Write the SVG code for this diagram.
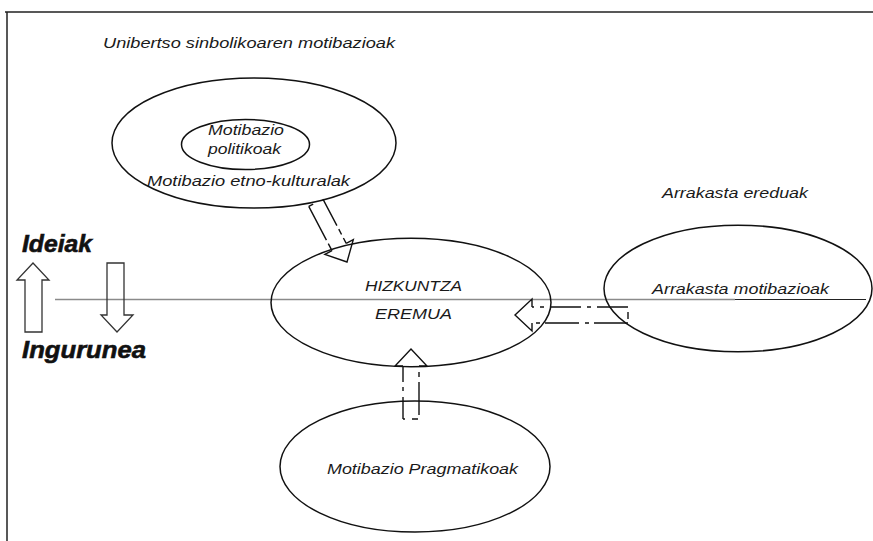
<svg xmlns="http://www.w3.org/2000/svg" width="873" height="541" viewBox="0 0 873 541">
  <style>
    .ell { fill: none; stroke: #111; stroke-width: 1.5; }
    .lbl { font-family: "Liberation Sans", Arial, Helvetica, sans-serif; font-style: italic; font-size: 15px; fill: #1a1a1a; }
    .big { font-weight: bold; font-size: 24px; fill: #111; stroke: #111; stroke-width: 0.6; }
    .hollow { fill: none; stroke: #333; stroke-width: 1.3; stroke-linejoin: miter; }
    .head { fill: none; stroke: #111; stroke-width: 1.4; }
    .shaft { fill: none; stroke: #111; stroke-width: 1.4; }
    .frame { fill: none; stroke: #222; stroke-width: 1.5; }
  </style>

  <!-- page frame (top and left edges only) -->
  <g id="frame">
    <path class="frame" d="M5,12 H873 M7,12 V541"/>
  </g>

  <!-- horizontal divider between ideas and environment -->
  <g id="divider">
    <path d="M55,299.5 H735" stroke="#8a8a8a" stroke-width="1.3" fill="none"/>
    <path d="M735,299.5 H866" stroke="#222" stroke-width="1.1" fill="none"/>
  </g>

  <!-- free labels (wide light italic lettering, stretched to width) -->
  <g id="labels">
    <text class="lbl" x="103" y="48" textLength="292" lengthAdjust="spacingAndGlyphs">Unibertso sinbolikoaren motibazioak</text>
    <text class="lbl" x="662" y="198" textLength="146" lengthAdjust="spacingAndGlyphs">Arrakasta ereduak</text>
  </g>

  <!-- side legend: ideas up / environment down -->
  <g id="legend">
    <text class="lbl big" x="22" y="252" textLength="70" lengthAdjust="spacingAndGlyphs">Ideiak</text>
    <text class="lbl big" x="22" y="358" textLength="124" lengthAdjust="spacingAndGlyphs">Ingurunea</text>
    <polygon class="hollow" points="25,332 25,280 17,280 33,263 49,280 42,280 42,332"/>
    <polygon class="hollow" points="107,263 124,263 124,315 133,315 117,332 101,315 107,315"/>
  </g>

  <!-- nodes -->
  <g id="node-etno-kulturalak">
    <ellipse class="ell" cx="254" cy="143" rx="142" ry="65"/>
    <text class="lbl" x="147" y="186" textLength="203" lengthAdjust="spacingAndGlyphs">Motibazio etno-kulturalak</text>
  </g>

  <g id="node-politikoak">
    <ellipse class="ell" cx="245.5" cy="144.5" rx="64" ry="25"/>
    <text class="lbl" x="208" y="135" textLength="76" lengthAdjust="spacingAndGlyphs">Motibazio</text>
    <text class="lbl" x="208" y="154" textLength="73" lengthAdjust="spacingAndGlyphs">politikoak</text>
  </g>

  <g id="node-hizkuntza-eremua">
    <ellipse class="ell" cx="411" cy="302.5" rx="140" ry="64.2"/>
    <text class="lbl" x="365" y="291" textLength="97" lengthAdjust="spacingAndGlyphs">HIZKUNTZA</text>
    <text class="lbl" x="375" y="319" textLength="77" lengthAdjust="spacingAndGlyphs">EREMUA</text>
  </g>

  <g id="node-arrakasta">
    <ellipse class="ell" cx="738" cy="288.5" rx="134" ry="63.3"/>
    <text class="lbl" x="652" y="294" textLength="177" lengthAdjust="spacingAndGlyphs">Arrakasta motibazioak</text>
  </g>

  <g id="node-pragmatikoak">
    <ellipse class="ell" cx="415" cy="466.5" rx="135" ry="65.5"/>
    <text class="lbl" x="327" y="474" textLength="191" lengthAdjust="spacingAndGlyphs">Motibazio Pragmatikoak</text>
  </g>

  <!-- connectors: hollow dash-dot arrows into the language field -->
  <g id="connectors">
    <!-- from ethno-cultural motivations (diagonal) -->
    <g id="edge-etno-hizkuntza">
      <path class="shaft" d="M308.75,206.45 L332,250.7" stroke-dasharray="38 4 50"/>
      <path class="shaft" d="M322.95,199.05 L346.2,243.3" stroke-dasharray="30 4 6 4"/>
      <path class="shaft" d="M308.75,206.45 L322.95,199.05" stroke-dasharray="5 11"/>
      <path class="head" d="M332,250.7 L324.9,254.4 L347,262 L353.3,239.6 L346.2,243.3"/>
    </g>
    <!-- from success motivations (horizontal, pointing left) -->
    <g id="edge-arrakasta-hizkuntza">
      <path class="shaft" d="M628,307 H532" stroke-dasharray="31 6 4 6"/>
      <path class="shaft" d="M628,323 H532" stroke-dasharray="34 5 4 6"/>
      <path class="shaft" d="M628,307 V323" stroke-dasharray="0 5 7 4"/>
      <path class="head" d="M532,307 V299 L515,315 L532,331 V323"/>
    </g>
    <!-- from pragmatic motivations (vertical, pointing up) -->
    <g id="edge-pragmatikoak-hizkuntza">
      <path class="shaft" d="M403,419 V366" stroke-dasharray="22 6 4 5"/>
      <path class="shaft" d="M419,419 V366" stroke-dasharray="0 4 33 5 5 5"/>
      <path class="shaft" d="M403,419 H419" stroke-dasharray="2 7 6 1"/>
      <path class="head" d="M403,366 H395 L411,349 L427,366 H419"/>
    </g>
  </g>
</svg>
